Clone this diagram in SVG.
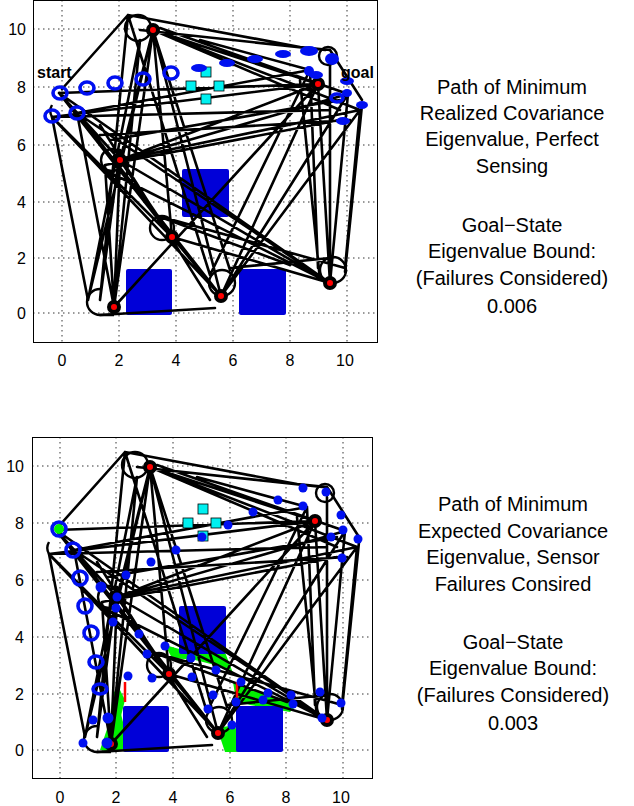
<svg xmlns="http://www.w3.org/2000/svg" xmlns:xlink="http://www.w3.org/1999/xlink" width="634" height="806" viewBox="0 0 634 806">
<style>
text{font-family:"Liberation Sans",Arial,sans-serif;fill:#000}
.t{font-size:16px}
.r{font-size:20px;text-anchor:middle}
.g{stroke:#000;stroke-width:0.8;stroke-dasharray:1.5,3.5}
.ax{fill:none;stroke:#000;stroke-width:1}
.e{fill:none;stroke:#000;stroke-width:2.6;stroke-linecap:round}
.c{fill:none;stroke:#000;stroke-width:2.4}
.rd{fill:#f00;stroke:#000;stroke-width:4}
.ob{fill:#0000d8}
.cy{fill:#00f0f0;stroke:#000;stroke-width:0.8}
.ring{fill:none;stroke:#0010f0;stroke-width:3.6}
.bd{fill:#0010f0}
.gr{fill:#00f000}
</style>
<defs>
<g id="net">
<g id="obstacles">
<rect class="ob" x="182" y="169" width="47" height="48" rx="2"/>
<rect class="ob" x="126" y="269" width="46" height="46" rx="2"/>
<rect class="ob" x="239" y="269" width="47" height="46" rx="2"/>
</g>
<g id="connectors">
<path class="e" d="M128,15 L300,47 M62,89 L128,15 M52,117 L88,300 M300,47 L330,50 M330,50 L362,100 M362,105 L345,272 M100,315 L215,308 M230,268 L330,258
M59,93 L318,84 M52,117 L318,84 M77,113 L310,70 M120,160 L318,84 M120,160 L360,110 M120,160 L348,94 M105,165 L340,120
M153,30 L120,160 M153,30 L114,307 M153,30 L172,237 M153,30 L221,296 M153,30 L318,84 M153,30 L340,110 M140,40 L88,300 M128,15 L100,300
M59,93 L172,237 M59,93 L221,296 M52,117 L221,296 M77,113 L330,283 M120,160 L330,283 M172,237 L330,283 M155,215 L345,268
M221,296 L318,84 M221,296 L348,94 M210,275 L310,70 M221,296 L360,110 M114,307 L318,84 M114,307 L120,160 M88,300 L153,30
M330,283 L318,84 M330,283 L348,94 M318,268 L310,70 M345,268 L360,110 M172,237 L221,296 M120,160 L172,237 M52,117 L172,237
M59,93 L120,160 M77,113 L114,307 M105,165 L114,307 M140,40 L114,307 M153,30 L230,270 M128,15 L210,275 M100,135 L350,120
M52,117 L330,110 M110,140 L340,100 M160,28 L348,94 M200,40 L310,70 M153,30 L360,110 M140,30 L325,50 M120,150 L100,300
M59,93 L330,283 M330,283 L330,60 M320,280 L300,80 M105,170 L330,283 M155,215 L290,265 M77,113 L221,296 M100,125 L210,300"/>
<circle class="c" cx="138" cy="28" r="13"/>
<circle class="c" cx="222" cy="283" r="13"/>
<circle class="c" cx="162" cy="228" r="12"/>
<circle class="c" cx="333" cy="270" r="13"/>
<circle class="c" cx="112" cy="160" r="11"/>
<circle class="c" cx="328" cy="56" r="9"/>
<path class="c" d="M100,289 A13,13 0 0,0 100,315 L114,315"/>
<path class="c" d="M52,105 A12,12 0 0,0 52,117"/>
</g>
<g id="cyan">
<rect class="cy" x="201" y="67" width="10" height="10"/>
<rect class="cy" x="186" y="81" width="10" height="10"/>
<rect class="cy" x="214" y="81" width="10" height="10"/>
<rect class="cy" x="201" y="94" width="10" height="10"/>
</g>
<g id="reddots">
<circle class="rd" cx="153" cy="30" r="5"/>
<circle class="rd" cx="318" cy="84" r="5"/>
<circle class="rd" cx="120" cy="160" r="5"/>
<circle class="rd" cx="172" cy="237" r="5"/>
<circle class="rd" cx="221" cy="296" r="5"/>
<circle class="rd" cx="114" cy="307" r="5"/>
<circle class="rd" cx="330" cy="283" r="5"/>
</g>
</g>
</defs>

<g id="top-plot">
<rect x="0" y="0" width="634" height="806" fill="#fff"/>
<g id="grid-top">
<path class="g" d="M62,0V343 M119,0V343 M176,0V343 M233,0V343 M290,0V343 M347,0V343 M33,29H378 M33,87H378 M33,145H378 M33,202H378 M33,258H378 M33,313H378"/>
</g>
<use xlink:href="#net"/>
<g id="path-top">
<ellipse class="ring" cx="60" cy="93" rx="7" ry="6"/>
<ellipse class="ring" cx="52" cy="116" rx="7" ry="6"/>
<ellipse class="ring" cx="77" cy="113" rx="7" ry="6"/>
<ellipse class="ring" cx="87" cy="88" rx="7" ry="6"/>
<ellipse class="ring" cx="115" cy="83" rx="7" ry="6"/>
<ellipse class="ring" cx="143" cy="79" rx="7" ry="6"/>
<ellipse class="ring" cx="171" cy="73" rx="7" ry="6"/>
<ellipse class="bd" cx="199" cy="68" rx="8" ry="4"/>
<ellipse class="bd" cx="227" cy="63" rx="8" ry="4"/>
<ellipse class="bd" cx="255" cy="59" rx="8" ry="4"/>
<ellipse class="bd" cx="283" cy="54" rx="8" ry="4"/>
<ellipse class="bd" cx="309" cy="51" rx="9" ry="5"/>
<ellipse class="bd" cx="332" cy="59" rx="7" ry="6"/>
<ellipse class="bd" cx="309" cy="71" rx="5" ry="5"/>
<ellipse class="bd" cx="316" cy="75" rx="7" ry="4"/>
<ellipse class="bd" cx="347" cy="81" rx="7" ry="4"/>
<ellipse class="bd" cx="347" cy="93" rx="5" ry="4"/>
<ellipse class="ring" cx="337" cy="98" rx="6" ry="4"/>
<ellipse class="bd" cx="362" cy="105" rx="6" ry="4"/>
<ellipse class="bd" cx="343" cy="121" rx="7" ry="4"/>
</g>
<rect class="ax" x="33.5" y="0.5" width="344" height="342"/>
<g id="ticks-top" class="t">
<text x="26" y="35" text-anchor="end">10</text>
<text x="26" y="93" text-anchor="end">8</text>
<text x="26" y="151" text-anchor="end">6</text>
<text x="26" y="208" text-anchor="end">4</text>
<text x="26" y="264" text-anchor="end">2</text>
<text x="26" y="319" text-anchor="end">0</text>
<text x="62" y="366" text-anchor="middle">0</text>
<text x="119" y="366" text-anchor="middle">2</text>
<text x="176" y="366" text-anchor="middle">4</text>
<text x="233" y="366" text-anchor="middle">6</text>
<text x="290" y="366" text-anchor="middle">8</text>
<text x="345" y="366" text-anchor="middle">10</text>
</g>
<text x="37" y="78" font-size="16" font-weight="bold">start</text>
<text x="341" y="78" font-size="16" font-weight="bold">goal</text>
<g id="caption-top" class="r">
<text x="512" y="94">Path of Minimum</text>
<text x="512" y="120">Realized Covariance</text>
<text x="512" y="146">Eigenvalue, Perfect</text>
<text x="512" y="173">Sensing</text>
<text x="512" y="232">Goal−State</text>
<text x="512" y="258">Eigenvalue Bound:</text>
<text x="512" y="285">(Failures Considered)</text>
<text x="512" y="313">0.006</text>
</g>
</g>

<g id="bottom-plot">
<g id="grid-bottom">
<path class="g" d="M60,437V779 M116,437V779 M173,437V779 M230,437V779 M286,437V779 M343,437V779 M32,466H372 M32,523H372 M32,580H372 M32,637H372 M32,694H372 M32,750H372"/>
</g>
<g id="green">
<polygon class="gr" points="113,692 120,690 125,700 112,752 100,750 110,720"/>
<polygon class="gr" points="120,710 130,750 112,750"/>
<polygon class="gr" points="165,645 190,652 223,647 233,673 215,665 195,660 172,658"/>
<polygon class="gr" points="233,682 255,690 297,705 290,712 250,705 236,700"/>
<polygon class="gr" points="217,728 235,725 242,752 225,752"/>
</g>
<use xlink:href="#net" transform="translate(-3,437)"/>
<g id="red-bits">
<path d="M125,682V702 M237,682V698" stroke="#f00" stroke-width="2.5"/>
</g>
<g id="path-bottom">
<circle cx="59" cy="529" r="5" class="gr"/>
<ellipse class="ring" cx="59" cy="529" rx="7" ry="7"/>
<ellipse class="ring" cx="73" cy="550" rx="7" ry="7"/>
<ellipse class="ring" cx="80" cy="578" rx="7" ry="7"/>
<ellipse class="ring" cx="85" cy="606" rx="7" ry="7"/>
<ellipse class="ring" cx="91" cy="633" rx="7" ry="7"/>
<ellipse class="ring" cx="96" cy="662" rx="7" ry="6"/>
<ellipse class="ring" cx="100" cy="689" rx="7" ry="5"/>
<g class="bd">
<circle cx="303" cy="488" r="4.5"/><circle cx="326" cy="492" r="4.5"/><circle cx="278" cy="500" r="4.5"/><circle cx="303" cy="506" r="4.5"/>
<circle cx="253" cy="512" r="4.5"/><circle cx="341" cy="515" r="4.5"/><circle cx="228" cy="525" r="4.5"/><circle cx="343" cy="530" r="4.5"/>
<circle cx="331" cy="537" r="4.5"/><circle cx="358" cy="539" r="4.5"/><circle cx="202" cy="537" r="4.5"/><circle cx="176" cy="550" r="4.5"/>
<circle cx="342" cy="558" r="4.5"/><circle cx="151" cy="562" r="4.5"/><circle cx="126" cy="575" r="4.5"/><circle cx="101" cy="587" r="5.5"/>
<circle cx="117" cy="597" r="4.5"/><circle cx="116" cy="608" r="4.5"/><circle cx="113" cy="622" r="4.5"/><circle cx="139" cy="634" r="4.5"/>
<circle cx="165" cy="646" r="4.5"/><circle cx="147" cy="654" r="4.5"/><circle cx="191" cy="658" r="4.5"/><circle cx="216" cy="670" r="4.5"/>
<circle cx="192" cy="677" r="4.5"/><circle cx="152" cy="678" r="4.5"/><circle cx="128" cy="676" r="4.5"/><circle cx="241" cy="682" r="4.5"/>
<circle cx="213" cy="695" r="4.5"/><circle cx="268" cy="693" r="4.5"/><circle cx="291" cy="695" r="4.5"/><circle cx="320" cy="692" r="4.5"/>
<circle cx="236" cy="702" r="4.5"/><circle cx="293" cy="704" r="4.5"/><circle cx="263" cy="700" r="4.5"/><circle cx="341" cy="703" r="4.5"/>
<circle cx="208" cy="709" r="4.5"/><circle cx="93" cy="720" r="4.5"/><circle cx="108" cy="718" r="5.5"/><circle cx="232" cy="725" r="4.5"/>
<circle cx="322" cy="718" r="4.5"/><circle cx="83" cy="743" r="4.5"/><circle cx="107" cy="743" r="5.5"/>
</g>
</g>
<rect class="ax" x="32.5" y="437.5" width="340" height="341"/>
<g id="ticks-bottom" class="t">
<text x="24" y="472" text-anchor="end">10</text>
<text x="24" y="529" text-anchor="end">8</text>
<text x="24" y="586" text-anchor="end">6</text>
<text x="24" y="643" text-anchor="end">4</text>
<text x="24" y="700" text-anchor="end">2</text>
<text x="24" y="756" text-anchor="end">0</text>
<text x="60" y="803" text-anchor="middle">0</text>
<text x="116" y="803" text-anchor="middle">2</text>
<text x="173" y="803" text-anchor="middle">4</text>
<text x="230" y="803" text-anchor="middle">6</text>
<text x="286" y="803" text-anchor="middle">8</text>
<text x="341" y="803" text-anchor="middle">10</text>
</g>
<g id="caption-bottom" class="r">
<text x="513" y="511">Path of Minimum</text>
<text x="513" y="538">Expected Covariance</text>
<text x="513" y="564">Eigenvalue, Sensor</text>
<text x="513" y="591">Failures Consired</text>
<text x="513" y="649">Goal−State</text>
<text x="513" y="675">Eigenvalue Bound:</text>
<text x="513" y="702">(Failures Considered)</text>
<text x="513" y="730">0.003</text>
</g>
</g>
</svg>
